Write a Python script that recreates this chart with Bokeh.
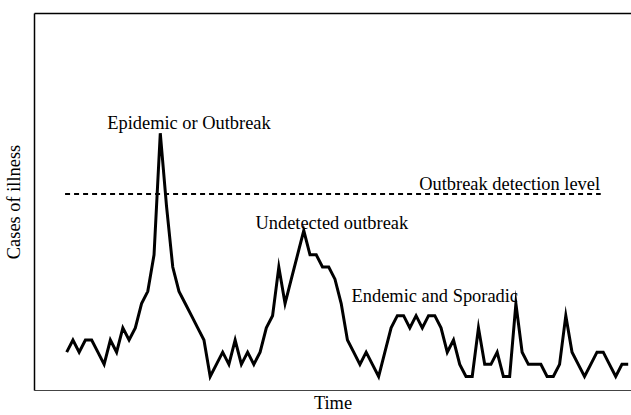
from bokeh.plotting import figure
from bokeh.models import Label, Range1d, LinearAxis, FixedTicker
from bokeh.embed import file_html
from bokeh.resources import INLINE

# ---- data ----
cases = [3, 4, 3, 4, 4, 3, 2, 4, 3, 5,
         4, 5, 7, 8, 11, 21, 15, 10, 8, 7,
         6, 5, 4, 1, 2, 3, 2, 4, 2, 3,
         2, 3, 5, 6, 10, 7, 9, 11, 13, 11,
         11, 10, 10, 9, 7, 4, 3, 2, 3, 2,
         1, 3, 5, 6, 6, 5, 6, 5, 6, 6,
         5, 3, 4, 2, 1, 1, 5, 2, 2, 3,
         1, 1, 7, 3, 2, 2, 2, 1, 1, 2,
         6, 3, 2, 1, 2, 3, 3, 2, 1, 2, 2]
time = list(range(len(cases)))
detection_level = 16
detection_span = [-0.26, 85.6]

annotations = [
    ("Epidemic or Outbreak", 19.6, 21.82),
    ("Undetected outbreak", 42.5, 13.62),
    ("Endemic and Sporadic", 59.0, 7.58),
    ("Outbreak detection level", 71.0, 16.85),
]

FONT = "Liberation Serif"
FS = "18.4px"

p = figure(width=631, height=415, output_backend="svg", toolbar_location=None,
           x_range=Range1d(-5.16, 90.53), y_range=Range1d(-0.15, 30.84),
           x_axis_location=None, y_axis_location=None,
           min_border_left=32, min_border_right=0, min_border_top=13,
           min_border_bottom=24)
p.outline_line_color = None
p.grid.visible = False
p.background_fill_color = "white"
p.border_fill_color = "white"


def bare_axis(label=None, width=1.5, color="black", standoff=0):
    ax = LinearAxis(ticker=FixedTicker(ticks=[]))
    ax.major_tick_out = 0
    ax.major_tick_in = 0
    ax.minor_tick_out = 0
    ax.minor_tick_in = 0
    ax.major_label_standoff = 0
    ax.major_label_text_font_size = "0px"
    ax.axis_line_width = width
    ax.axis_line_color = color
    if label:
        ax.axis_label = label
        ax.axis_label_text_font = FONT
        ax.axis_label_text_font_size = FS
        ax.axis_label_text_font_style = "normal"
        ax.axis_label_text_color = "black"
        ax.axis_label_standoff = standoff
    return ax


p.add_layout(bare_axis("Cases of illness", 1.5, "black", 11), "left")
p.add_layout(bare_axis("Time", 1.2, "#444444", 2), "below")
p.add_layout(bare_axis(None, 1.5, "black"), "above")

p.line(detection_span, [detection_level, detection_level], line_color="black",
       line_width=2, line_dash="5 4")
p.line(time, cases, line_color="black", line_width=3, line_join="miter")

for txt, x, y in annotations:
    p.add_layout(Label(x=x, y=y, text=txt, text_align="center",
                       text_baseline="alphabetic", text_font=FONT,
                       text_font_size=FS, text_color="black"))

open("out.html", "w").write(file_html(p, INLINE))
